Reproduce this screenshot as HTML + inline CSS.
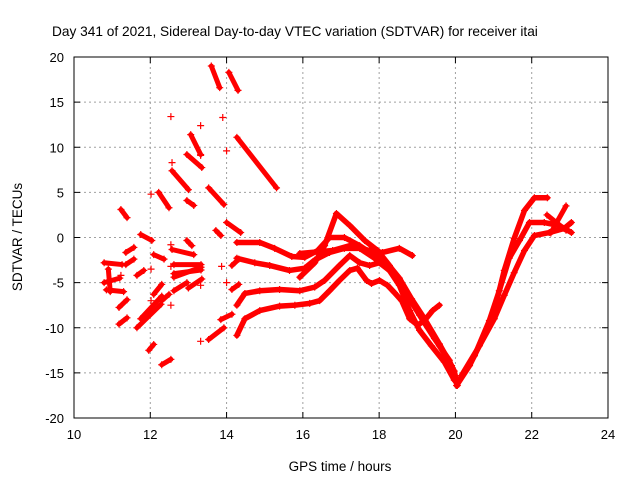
<!DOCTYPE html>
<html><head><meta charset="utf-8"><style>
html,body{margin:0;padding:0;background:#fff}
svg{display:block;font-family:"Liberation Sans",sans-serif}
</style></head><body>
<svg id="chart" width="640" height="480">
<text x="52" y="36" font-size="13.7">Day 341 of 2021, Sidereal Day-to-day VTEC variation (SDTVAR) for receiver itai</text>
<text x="340" y="471" font-size="13.5" text-anchor="middle">GPS time / hours</text>
<text transform="translate(22,237) rotate(-90)" font-size="13.5" text-anchor="middle">SDTVAR / TECUs</text>
<g id="grid"></g><g id="marks"></g>
<rect x="74" y="57" width="534" height="361" fill="none" stroke="#000" stroke-width="1"/>
</svg>
<script>
const xTicks=[10,12,14,16,18,20,22,24];
const yTicks=[-20,-15,-10,-5,0,5,10,15,20];
const trackH=[
[14.27,14.87,15.26,15.71,16.05,16.39,16.70,17.09,17.49,17.88,18.22,18.53,18.85,19.19,19.58,19.97,20.05],
[15.92,16.31,16.57,16.88,17.23,17.62,17.96,18.27,18.53,18.85,19.19,19.58,19.9,20.03],
[14.27,14.74,15.13,15.65,16.05,16.31,16.70,17.09,17.49,17.88,18.14,18.40,18.66,19.06,19.45,19.84,20.05],
[14.27,14.48,14.87,15.39,15.92,16.31,16.57,16.96,17.23,17.49,17.75,18.01,18.27,18.53,18.80,19.06,19.37,19.71,19.97],
[14.27,14.48,14.87,15.39,15.79,16.18,16.44,16.70,16.96,17.23,17.43,17.67,17.80,18.01,18.22,18.40,18.59,18.80,19.01,19.19,19.40,19.58],
[15.92,16.78,17.23,17.75,18.09,18.53,18.87],
[20.03,20.37,20.76,21.02,21.28,21.54,21.81,22.07,22.41],
[20.10,20.50,20.89,21.15,21.41,21.68,21.94,22.33,22.72,23.04],
[20.16,20.63,21.02,21.28,21.54,21.81,22.07,22.46,22.85,23.04]
];
const trackV=[
[-0.55,-0.55,-1.2,-2.1,-2.2,-1.44,0,0,-0.9,-2.0,-2.9,-4.5,-6.8,-9.0,-11.8,-14.8,-16.4],
[-4.4,-2.8,-0.9,2.66,1.33,-0.33,-1.44,-3.1,-4.76,-7.0,-9.2,-12.0,-14.2,-16.1],
[-2.3,-2.8,-3.1,-3.65,-3.4,-2.5,-1.66,-1.2,-1.2,-2.3,-3.1,-4.2,-5.9,-8.6,-11.2,-13.6,-16.1],
[-7.5,-6.2,-5.9,-5.76,-5.9,-5.5,-4.76,-3.1,-2.0,-2.8,-3.1,-2.8,-3.65,-5.3,-8.1,-10.3,-12.0,-13.8,-15.8],
[-10.85,-9.0,-8.1,-7.6,-7.5,-7.3,-7.0,-5.9,-4.76,-3.65,-3.4,-4.76,-5.1,-4.76,-5.3,-6.1,-7.0,-9.0,-9.7,-9.2,-8.1,-7.5],
[-1.77,-1.44,-0.9,-1.44,-1.66,-1.2,-2.0],
[-16.4,-14.2,-10.85,-8.1,-3.65,-0.1,3.0,4.4,4.4],
[-15.8,-13.1,-9.2,-5.9,-2.3,-0.33,1.66,1.66,1.33,0.55],
[-15.3,-12.0,-9.0,-6.4,-3.9,-1.44,0.22,0.55,1.0,1.66]
];
const segments=[
[13.6,19.0,13.82,16.6],[14.06,18.3,14.3,16.3],[14.27,11.1,15.31,5.5],[13.06,11.4,13.32,9.2],
[12.96,9.2,13.35,7.75],[12.57,7.4,13.0,5.3],[12.22,5.0,12.49,3.3],[13.53,5.5,13.93,3.65],
[11.75,0.33,12.04,-0.33],[12.09,-1.9,12.36,-2.4],[12.57,-1.33,13.14,-1.9],[12.62,-3.0,13.33,-3.0],
[12.62,-4.0,13.33,-3.6],[12.62,-4.4,13.33,-3.3],[12.62,-5.9,12.96,-5.0],[13.0,-5.6,13.35,-4.6],
[12.09,-6.3,12.3,-5.2],[11.65,-10.0,12.28,-7.4],[11.75,-9.0,12.3,-6.5],[10.79,-2.8,11.26,-3.0],
[10.79,-5.0,11.2,-4.5],[10.85,-5.8,11.3,-6.0],[10.9,-3.5,10.95,-6.0],[11.18,-7.75,11.39,-6.9],
[11.18,-9.6,11.39,-8.9],[13.53,-11.3,13.93,-10.0],[11.96,-12.5,12.09,-11.85],[12.3,-14.1,12.54,-13.5],
[11.23,3.1,11.39,2.2],[11.36,-1.66,11.57,-1.1],[11.36,-3.0,11.57,-2.4],[11.65,-4.2,11.83,-3.65],
[13.72,0.78,13.85,0.22],[14.0,1.66,14.37,0.55],[12.96,4.1,13.14,3.55],[12.96,-0.33,13.09,-0.9],
[14.14,-3.1,14.32,-2.4],[14.14,-5.76,14.32,-5.2],[13.85,-9.1,14.14,-8.5],[12.3,-7.0,12.49,-6.3],
[22.4,2.5,22.9,0.8],[22.5,0.5,22.9,3.5]
];
const pointH=[12.54,13.32,13.9,14.0,13.32,12.57,12.02,12.54,12.02,11.23,12.54,13.87,14.0,12.02,12.54,13.32,13.32];
const pointV=[13.4,12.4,13.3,9.6,9.1,8.3,4.8,-0.8,-3.5,-4.2,-3.2,-3.2,-5.0,-7.0,-7.5,-11.5,-5.3];

const NS='http://www.w3.org/2000/svg';
const X0=74,X1=608,Y0=418,Y1=57;
const sx=h=>X0+(h-10)/(24-10)*(X1-X0);
const sy=v=>Y0-(v+20)/40*(Y0-Y1);
const grid=document.getElementById('grid'),marks=document.getElementById('marks');
function mk(tag,at,parent){const e=document.createElementNS(NS,tag);for(const k in at)e.setAttribute(k,at[k]);parent.appendChild(e);return e;}
xTicks.forEach(t=>{const x=sx(t);
 if(t>10&&t<24){const g=mk('line',{x1:x,x2:x,y1:Y1,y2:Y0,stroke:'#a0a0a0','stroke-dasharray':'2,3'},grid);
 
 }
 mk('line',{x1:x,x2:x,y1:Y0,y2:Y0-6,stroke:'#000'},grid);
 mk('line',{x1:x,x2:x,y1:Y1,y2:Y1+6,stroke:'#000'},grid);
 const l=mk('text',{x:x,y:Y0+21,'font-size':13,'text-anchor':'middle'},grid);l.textContent=t;
 
 
});
yTicks.forEach(t=>{const y=sy(t);
 if(t>-20&&t<20){const g=mk('line',{x1:X0,x2:X1,y1:y,y2:y,stroke:'#a0a0a0','stroke-dasharray':'2,3'},grid);
 
 }
 mk('line',{x1:X0,x2:X0+6,y1:y,y2:y,stroke:'#000'},grid);
 mk('line',{x1:X1,x2:X1-6,y1:y,y2:y,stroke:'#000'},grid);
 const l=mk('text',{x:X0-10,y:y+5,'font-size':13,'text-anchor':'end'},grid);l.textContent=t;
 
 
});
function plus(x,y,name){const p=mk('path',{d:`M${x-3.5} ${y}h7M${x} ${y-3.5}v7`,stroke:'#f00','stroke-width':1.2,fill:'none'},marks);
 
 }
trackH.forEach((hs,i)=>{const vs=trackV[i];
 const pts=hs.map((h,j)=>sx(h)+','+sy(vs[j])).join(' ');
 const pl=mk('polyline',{points:pts,fill:'none',stroke:'#f00','stroke-width':5.5,'stroke-linejoin':'round','stroke-linecap':'round'},marks);
 
 
 hs.forEach((h,j)=>plus(sx(h),sy(vs[j]),'track-point'));
});
segments.forEach(s=>{
 const l=mk('line',{x1:sx(s[0]),y1:sy(s[1]),x2:sx(s[2]),y2:sy(s[3]),stroke:'#f00','stroke-width':5,'stroke-linecap':'round'},marks);
 
 
 plus(sx(s[0]),sy(s[1]),'arc-point');plus(sx(s[2]),sy(s[3]),'arc-point');
});
pointH.forEach((h,i)=>plus(sx(h),sy(pointV[i]),'isolated-point'));
</script>
</body></html>
